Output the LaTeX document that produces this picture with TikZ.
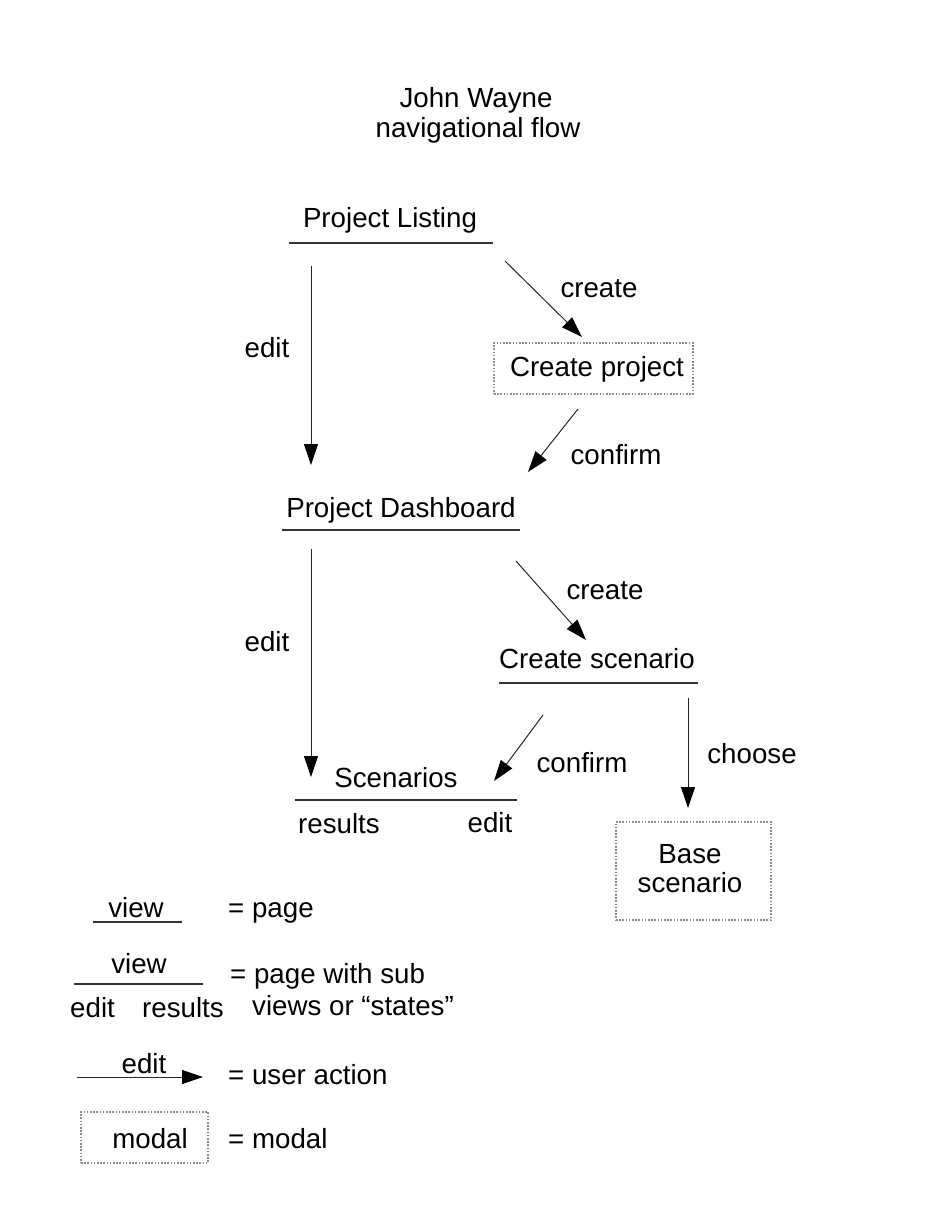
\documentclass[tikz,border=0pt]{standalone}
\usepackage{fontspec}
\setmainfont{Liberation Sans}
\usetikzlibrary{arrows.meta}
\begin{document}
\begin{tikzpicture}[x=1pt,y=-1pt,
  every node/.style={font=\fontsize{27.7}{29}\selectfont, inner sep=0pt, text=black},
  lbl/.style={anchor=base},
  lblw/.style={anchor=base west},
  act/.style={draw=black!85, line width=1pt, -{Triangle[length=21pt 0,width=14pt 0,color=black,fill=black]}},
  pageline/.style={draw=black!80, line width=1.2pt},
  modalbox/.style={draw=black!45, line width=1.1pt, dash pattern=on 1.6pt off 1.6pt}]
\useasboundingbox[fill=white] (0,0) rectangle (943,1221);

% title
\node[lbl] (t1) at (476,107) {John Wayne};
\node[lbl] (t2) at (478,137) {navigational flow};

% Project Listing
\node[lbl] (pl) at (390,227) {Project Listing};
\draw[pageline] (289,243) -- (493,243);

% Create project modal
\node[modalbox, minimum width=199pt, minimum height=51pt] (cp) at (593.5,368.5) {};
\node[lbl] (cpt) at (597,376) {Create project};

% Project Dashboard
\node[lbl] (pd) at (401,517) {Project Dashboard};
\draw[pageline] (282,530) -- (520,530);

% Create scenario
\node[lbl] (cs) at (597,668) {Create scenario};
\draw[pageline] (499,683) -- (698,683);

% Scenarios
\node[lbl] (sc) at (396,787) {Scenarios};
\draw[pageline] (295,800) -- (517,800);
\node[lbl] (scr) at (339,833) {results};
\node[lbl] (sce) at (490,832) {edit};

% Base scenario modal
\node[modalbox, minimum width=155pt, minimum height=98pt] (bs) at (693.5,871) {};
\node[lbl] (bs1) at (690,863) {Base};
\node[lbl] (bs2) at (690,892) {scenario};

% arrow endpoints
\coordinate (a1s) at (311,266); \coordinate (a1e) at (311,465);
\coordinate (a2s) at (505,261); \coordinate (a2e) at (582,337);
\coordinate (a3s) at (578,409); \coordinate (a3e) at (528,472);
\coordinate (a4s) at (311,549); \coordinate (a4e) at (311,777);
\coordinate (a5s) at (516,561); \coordinate (a5e) at (586,640);
\coordinate (a6s) at (688,698); \coordinate (a6e) at (688,808);
\coordinate (a7s) at (543,715); \coordinate (a7e) at (494,781);

\draw[act] (a1s) -- (a1e);
\draw[act] (a2s) -- (a2e);
\draw[act] (a3s) -- (a3e);
\draw[act] (a4s) -- (a4e);
\draw[act] (a5s) -- (a5e);
\draw[act] (a6s) -- (a6e);
\draw[act] (a7s) -- (a7e);

% arrow labels
\node[lbl] (l1) at (267,357) {edit};
\node[lbl] (l2) at (599,297) {create};
\node[lbl] (l3) at (616,464) {confirm};
\node[lbl] (l4) at (267,651) {edit};
\node[lbl] (l5) at (605,599) {create};
\node[lbl] (l6) at (752,763) {choose};
\node[lbl] (l7) at (582,772) {confirm};

% legend
\node[lbl] (v1) at (136,917) {view};
\draw[pageline] (93,922) -- (182,922);
\node[lblw] (e1) at (228,917) {= page};

\node[lbl] (v2) at (139,973) {view};
\draw[pageline] (74,984) -- (203,984);
\node[lblw] (ve) at (70,1017) {edit};
\node[lblw] (vr) at (142,1017) {results};
\node[lblw] (e2) at (230,983) {= page with sub};
\node[lblw] (e2b) at (252,1015) {views or “states”};

\coordinate (las) at (77,1077); \coordinate (lae) at (203,1077);
\draw[act] (las) -- (lae);
\node[lbl] (le) at (144,1073) {edit};
\node[lblw] (e3) at (228,1084) {= user action};

\node[modalbox, minimum width=127pt, minimum height=51pt] (lm) at (144.5,1137.5) {};
\node[lbl] (lmt) at (150,1148) {modal};
\node[lblw] (e4) at (228,1148) {= modal};
\end{tikzpicture}
\end{document}
